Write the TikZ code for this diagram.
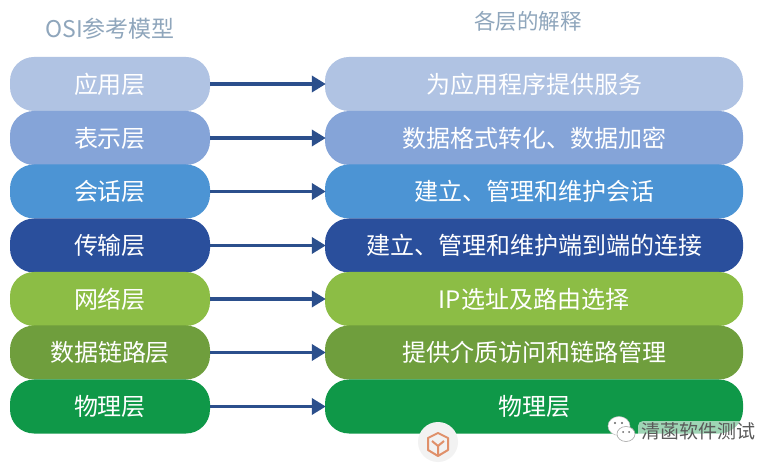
\documentclass[tikz,border=0pt]{standalone}
\usepackage{fontspec}
\setmainfont{Noto Sans CJK SC}
\usetikzlibrary{arrows.meta}
\definecolor{c1}{HTML}{B0C3E3}
\definecolor{c2}{HTML}{85A4D8}
\definecolor{c3}{HTML}{4C94D4}
\definecolor{c4}{HTML}{2A4F9C}
\definecolor{c5}{HTML}{8CBD45}
\definecolor{c6}{HTML}{6F9E3D}
\definecolor{c7}{HTML}{0F9848}
\definecolor{arrowc}{HTML}{2B4F8C}
\definecolor{titlec}{HTML}{8FA6BC}
\definecolor{iconc}{HTML}{E0906A}
\tikzset{
  layerbox/.style={draw=none,rounded corners=24pt,inner sep=0pt,text=white,font=\fontsize{24}{24}\selectfont},
  leftbox/.style={layerbox,minimum width=200pt,minimum height=54pt},
  rightbox/.style={layerbox,minimum width=418pt,minimum height=54pt},
  link/.style={draw=arrowc,line width=3.6pt,-{Triangle[length=14pt,width=16pt]},shorten >=-1pt},
  heading/.style={text=titlec,inner sep=0pt}
}
\begin{document}
\begin{tikzpicture}[x=1pt,y=-1pt]
\useasboundingbox (0,0) rectangle (780,465);
\fill[white] (0,0) rectangle (780,465);
\node[heading,font=\fontsize{23}{23}\selectfont] (t1) at (110,29) {OSI参考模型};
\node[heading,font=\fontsize{21.5}{21.5}\selectfont] (t2) at (528,21) {各层的解释};
\foreach \n/\y/\c/\l/\r in {
 a/84/c1/应用层/为应用程序提供服务,
 b/138/c2/表示层/数据格式转化、数据加密,
 c/191.5/c3/会话层/建立、管理和维护会话,
 d/245.5/c4/传输层/建立、管理和维护端到端的连接,
 e/299/c5/网络层/IP选址及路由选择,
 f/352.5/c6/数据链路层/提供介质访问和链路管理,
 g/406.5/c7/物理层/物理层}{
  \node[leftbox,fill=\c] (l\n) at (110,\y) {\l};
  \node[rightbox,fill=\c] (r\n) at (534,\y) {\r};
  \draw[link] (l\n.east) -- (r\n.west);
}
% watermark badge
\node[circle,fill=white!90!gray,minimum size=40pt,inner sep=0pt] (badge) at (438,442) {};
\draw[draw=iconc,line width=2pt,line join=round]
  (428,438) -- (438,433) -- (448,438) -- (448,450) -- (438,456) -- (428,450) -- cycle
  (432,441) -- (438,446) -- (444,441) (438,446) -- (438,456);
% WeChat mark and its pale halo
\fill[white,opacity=.6,rounded corners=5pt] (638,421) rectangle (758,443);
\draw[gray!50,line width=.5pt,fill=white] (619,426) ellipse (11 and 9.5);
\draw[gray!70,line width=.6pt,fill=white] (626,434) ellipse (9 and 7.5);
\fill[gray!80!black] (615,423) circle (1.1) (622,423) circle (1.1) (623,432) circle (1) (629,432) circle (1);
\node[text=black!65,inner sep=0pt,font=\fontsize{19}{19}\selectfont] (mark) at (698,431) {清菡软件测试};
\end{tikzpicture}
\end{document}
